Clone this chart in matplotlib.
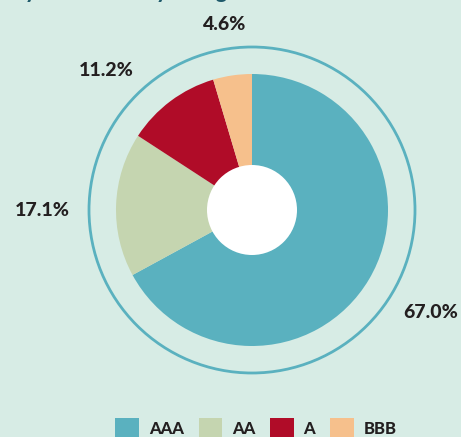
import matplotlib.pyplot as plt
from matplotlib.patches import Circle, Patch

# credit rating split
ratings = ['AAA', 'AA', 'A', 'BBB']
shares = [67.0, 17.1, 11.2, 4.6]
colors = ['#5AB1BF', '#C5D5B0', '#B00C28', '#F6C08C']

bg = '#D7ECE5'
W, H = 461, 437
font = 'Lato'

fig = plt.figure(figsize=(W / 100, H / 100), dpi=100, facecolor=bg)
ax = fig.add_axes([0, 0, 1, 1])

cx, cy = 252, H - 210

ax.pie(shares, colors=colors, startangle=90, counterclock=False,
       center=(cx, cy), radius=136, frame=True,
       wedgeprops=dict(linewidth=0))
ax.set_xlim(0, W)
ax.set_ylim(0, H)
ax.set_aspect('equal')
ax.axis('off')

# donut hole and outer ring
ax.add_patch(Circle((cx, cy), 45, facecolor='white', edgecolor='none', zorder=3))
ax.add_patch(Circle((cx, cy), 163, facecolor='none', edgecolor='#5AB1BF', linewidth=2, zorder=3))

# percentage labels
label_pos = [(431, 312), (42, 211), (106, 70), (225, 24)]
for (x, y), v in zip(label_pos, shares):
    ax.text(x, H - y, f'{v:.1f}%', ha='center', va='center',
            fontsize=14, fontweight='black', color='#231F20', family=font)

# cropped title at the top
fig.text(13 / W, 1 + 1.5 / H, 'by sector and by rating', ha='left', va='baseline',
         fontsize=15, fontweight='black', color='#1F5A6B', family=font)

handles = [Patch(facecolor=c, edgecolor='none') for c in colors]
leg = fig.legend(handles, ratings, loc='center', bbox_to_anchor=(256 / W, 1 - 428 / H),
                 ncol=4, frameon=False, handlelength=1.4, handleheight=1.4,
                 handletextpad=0.6, columnspacing=0.9, borderpad=0,
                 prop=dict(family=font, weight='black', size=12))
for t in leg.get_texts():
    t.set_color('#231F20')

fig.savefig('out.png', dpi=100, facecolor=bg)
